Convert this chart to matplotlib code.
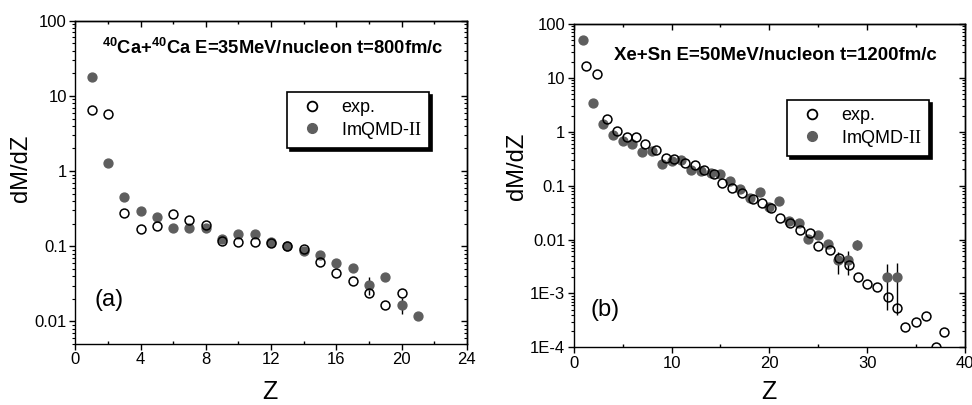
import matplotlib
matplotlib.use('Agg')
import matplotlib.pyplot as plt
from matplotlib.lines import Line2D
from matplotlib.ticker import FixedLocator, MultipleLocator, LogLocator, NullFormatter

plt.rcParams['font.family'] = ['Liberation Sans', 'DejaVu Sans']
plt.rcParams['mathtext.fontset'] = 'custom'
plt.rcParams['mathtext.rm'] = 'Liberation Serif'
plt.rcParams['mathtext.bf'] = 'Liberation Sans:bold'

# panel (a): 40Ca+40Ca
z_exp_a = [1, 2, 3, 4, 5, 6, 7, 8, 9, 10, 11, 12, 13, 14, 15, 16, 17, 18, 19, 20]
exp_a = [6.5, 5.7, 0.275, 0.171, 0.186, 0.27, 0.222, 0.19, 0.117, 0.114,
         0.114, 0.11, 0.1, 0.091, 0.062, 0.0437, 0.0349, 0.0242, 0.0166, 0.0242]
z_mod_a = [1, 2, 3, 4, 5, 6, 7, 8, 9, 10, 11, 12, 13, 14, 15, 16, 17, 18, 19, 20, 21]
mod_a = [17.7, 1.27, 0.457, 0.29, 0.248, 0.173, 0.173, 0.177, 0.125, 0.145,
         0.146, 0.115, 0.102, 0.0855, 0.076, 0.0606, 0.051, 0.0306, 0.039, 0.0167, 0.0118]
err_a = [1.2, 0.1, 0.04, 0.025, 0.025, 0.018, 0.018, 0.018, 0.014, 0.016,
         0.016, 0.014, 0.01, 0.009, 0.008, 0.007, 0.006, 0.008, 0.004, 0.004, 0.001]

# panel (b): Xe+Sn
z_exp_b = [1.3, 2.4, 3.4, 4.4, 5.4, 6.4, 7.3, 8.4, 9.4, 10.3, 11.4, 12.4, 13.3, 14.3,
           15.2, 16.2, 17.2, 18.3, 19.3, 20.2, 21.1, 22.1, 23.1, 24.2, 25.0, 26.2,
           27.1, 28.1, 29.1, 30.0, 31.0, 32.1, 33.1, 33.9, 35.0, 36.0, 37.0, 37.9]
exp_b = [16.8, 11.8, 1.71, 1.05, 0.81, 0.81, 0.59, 0.46, 0.32, 0.31, 0.26, 0.245,
         0.195, 0.165, 0.11, 0.089, 0.072, 0.057, 0.047, 0.038, 0.0248, 0.0206,
         0.0151, 0.0131, 0.0076, 0.0064, 0.0045, 0.0034, 0.00205, 0.00148, 0.00132,
         0.00085, 0.00053, 0.00024, 0.00029, 0.00038, 0.000103, 0.000195]
z_mod_b = [1, 2, 3, 4, 5, 6, 7, 8, 9, 10, 11, 12, 13, 14, 15, 16, 17, 18, 19, 20,
           21, 22, 23, 24, 25, 26, 27, 28, 29, 32, 33]
mod_b = [50.5, 3.38, 1.38, 0.885, 0.684, 0.60, 0.428, 0.44, 0.249, 0.283, 0.296,
         0.193, 0.185, 0.17, 0.165, 0.122, 0.086, 0.059, 0.075, 0.041, 0.052,
         0.0221, 0.0205, 0.0101, 0.0123, 0.0083, 0.0041, 0.0041, 0.008, 0.0020, 0.0020]
err_b = [0.5, 0.05, 0.03, 0.02, 0.02, 0.02, 0.015, 0.015, 0.01, 0.01, 0.01,
         0.008, 0.008, 0.008, 0.008, 0.006, 0.005, 0.004, 0.004, 0.003, 0.003,
         0.0015, 0.0015, 0.0012, 0.0012, 0.001, 0.0018, 0.0019, 0.0017, 0.0015, 0.0016]

gray = '#5e5e5e'

fig = plt.figure(figsize=(9.72, 4.05), dpi=100)
ax1 = fig.add_axes([0.0775, 0.1506, 0.4027, 0.798])
ax2 = fig.add_axes([0.5902, 0.1425, 0.4026, 0.7982])


def style(ax, xmax, xmaj, xmin, ylo, yticks, ylabels):
    ax.set_yscale('log')
    ax.set_xlim(0, xmax)
    ax.set_ylim(ylo, 100)
    ax.xaxis.set_major_locator(MultipleLocator(xmaj))
    ax.xaxis.set_minor_locator(MultipleLocator(xmin))
    ax.yaxis.set_major_locator(FixedLocator(yticks))
    ax.set_yticklabels(ylabels)
    ax.yaxis.set_minor_locator(LogLocator(base=10, subs=range(2, 10)))
    ax.yaxis.set_minor_formatter(NullFormatter())
    for s in ax.spines.values():
        s.set_linewidth(1.0)
    ax.tick_params(axis='x', which='major', direction='out', length=4, width=1,
                   labelsize=12, pad=2)
    ax.tick_params(axis='x', which='minor', direction='in', length=2.5, width=1)
    ax.tick_params(axis='y', which='both', direction='out', labelsize=12, pad=2)
    ax.tick_params(axis='y', which='major', length=4, width=1)
    ax.tick_params(axis='y', which='minor', length=2.5, width=0.8)
    # right and top axes carry inward ticks only
    sec = ax.secondary_yaxis('right')
    sec.tick_params(which='both', direction='in', labelright=False)
    sec.tick_params(which='major', length=4, width=1)
    sec.tick_params(which='minor', length=2.5, width=0.8)
    sec.yaxis.set_major_locator(FixedLocator(yticks))
    sec.yaxis.set_minor_locator(LogLocator(base=10, subs=range(2, 10)))
    sec.yaxis.set_minor_formatter(NullFormatter())
    sec.spines['right'].set_linewidth(1.0)
    top = ax.secondary_xaxis('top')
    top.tick_params(which='major', direction='in', length=4, width=1, labeltop=False)
    top.tick_params(which='minor', direction='in', length=2.5, width=1)
    top.xaxis.set_major_locator(MultipleLocator(xmaj))
    top.xaxis.set_minor_locator(MultipleLocator(xmin))
    top.spines['top'].set_linewidth(1.0)


def draw(ax, ze, ye, zm, ym, em):
    ax.errorbar(zm, ym, yerr=em, fmt='o', ms=6.4, mfc=gray, mec=gray,
                ecolor='black', elinewidth=1.0, capsize=0, zorder=3)
    ax.plot(ze, ye, 'o', ms=6.4, mfc='none', mec='black', mew=1.1, zorder=4)


style(ax1, 24, 4, 2, 0.005, [0.01, 0.1, 1, 10, 100], ['0.01', '0.1', '1', '10', '100'])
style(ax2, 40, 10, 5, 1e-4, [1e-4, 1e-3, 0.01, 0.1, 1, 10, 100],
      ['1E-4', '1E-3', '0.01', '0.1', '1', '10', '100'])

draw(ax1, z_exp_a, exp_a, z_mod_a, mod_a, err_a)
draw(ax2, z_exp_b, exp_b, z_mod_b, mod_b, err_b)

handles = [Line2D([], [], ls='none', marker='o', ms=7, mfc='none', mec='black', mew=1.3),
           Line2D([], [], ls='none', marker='o', ms=7, mfc=gray, mec=gray)]
labels = ['exp.', r'ImQMD-$\mathrm{II}$']

for ax, anchor in [(ax1, (0.541, 0.780)), (ax2, (0.545, 0.765))]:
    leg = ax.legend(handles, labels, loc='upper left', bbox_to_anchor=anchor,
                    borderaxespad=0, fontsize=13, numpoints=1, handlelength=2.0,
                    handletextpad=0.6, borderpad=0.4, labelspacing=0.2, fancybox=False,
                    shadow={'color': 'black', 'alpha': 1.0})
    leg.get_frame().set_edgecolor('black')
    leg.get_frame().set_linewidth(1.2)

ax1.text(0.5036, 0.9156, r'$^{\mathbf{40}}$Ca+$^{\mathbf{40}}$Ca E=35MeV/nucleon t=800fm/c',
         transform=ax1.transAxes, ha='center', va='center', fontsize=13.2, fontweight='bold')
ax2.text(0.515, 0.904, 'Xe+Sn E=50MeV/nucleon t=1200fm/c',
         transform=ax2.transAxes, ha='center', va='center', fontsize=13.4, fontweight='bold')

ax1.text(0.05, 0.136, '(a)', transform=ax1.transAxes, ha='left', va='center', fontsize=17)
ax2.text(0.044, 0.115, '(b)', transform=ax2.transAxes, ha='left', va='center', fontsize=17)

ax1.set_ylabel('dM/dZ', fontsize=17)
ax2.set_ylabel('dM/dZ', fontsize=17)
ax1.set_xlabel('Z', fontsize=18)
ax2.set_xlabel('Z', fontsize=18)
ax1.yaxis.set_label_coords(-0.111, 0.544)
ax2.yaxis.set_label_coords(-0.117, 0.561)
ax1.xaxis.set_label_coords(0.497, -0.112)
ax2.xaxis.set_label_coords(0.5, -0.1)

fig.savefig('out.png', dpi=100)
